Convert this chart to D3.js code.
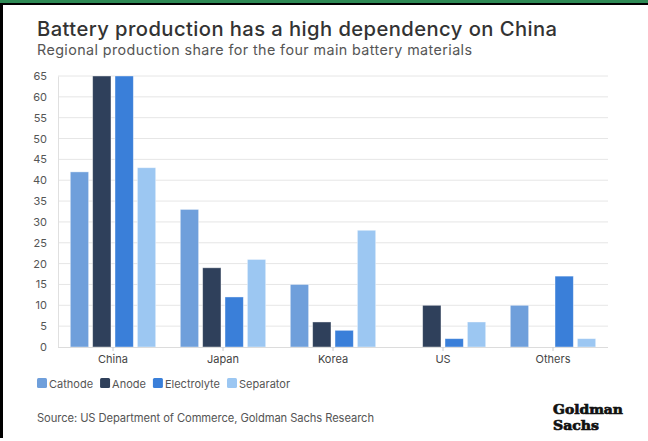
<!DOCTYPE html>
<html><head><meta charset="utf-8">
<script src="https://cdn.jsdelivr.net/npm/d3@7"></script>
<style>
html,body{margin:0;padding:0;background:#fff;}
svg{display:block;}
</style></head>
<body>
<svg id="c" width="648" height="441"></svg>
<script>
const categories = ["China", "Japan", "Korea", "US", "Others"];
const seriesNames = ["Cathode", "Anode", "Electrolyte", "Separator"];
const cathode = [42, 33, 15, 0, 10];
const anode = [65, 19, 6, 10, 0];
const electrolyte = [65, 12, 4, 2, 17];
const separator = [43, 21, 28, 6, 2];
const yTicks = [0,5,10,15,20,25,30,35,40,45,50,55,60,65];
const colors = ["#6f9fdb", "#2f405b", "#3a7fd9", "#9cc7f2"];

const seriesValues = [cathode, anode, electrolyte, separator];
const svg = d3.select("#c");
const font = "Inter, 'Noto Sans', sans-serif";

// frame
svg.append("rect").attr("x",0).attr("y",0).attr("width",648).attr("height",3).attr("fill","#2e8a55");
svg.append("rect").attr("x",0).attr("y",3).attr("width",648).attr("height",2).attr("fill","#000");
svg.append("rect").attr("x",0).attr("y",3).attr("width",3).attr("height",435).attr("fill","#000");

svg.append("text").attr("x",37).attr("y",36).attr("font-family",font).attr("font-size",20.2)
  .attr("font-weight",500).attr("fill","#333").attr("textLength",520).attr("lengthAdjust","spacing")
  .text("Battery production has a high dependency on China");
svg.append("text").attr("x",37).attr("y",55).attr("font-family",font).attr("font-size",14.3)
  .attr("fill","#555").attr("textLength",435).attr("lengthAdjust","spacing")
  .text("Regional production share for the four main battery materials");

const pL = 58, pR = 608, pT = 76, pB = 347;
const x = d3.scaleBand().domain(categories).range([pL, pR]).paddingInner(0).paddingOuter(0);
const x1 = d3.scaleBand().domain(seriesNames).range([0, x.bandwidth()]).paddingInner(0.18).paddingOuter(0.55);
const y = d3.scaleLinear().domain([0, 65]).range([pB, pT]);

// grid
svg.append("g").selectAll("line").data(yTicks.filter(d=>d>0)).join("line")
  .attr("x1",pL).attr("x2",pR).attr("y1",d=>y(d)).attr("y2",d=>y(d))
  .attr("stroke","#e6e6e6").attr("stroke-width",1);

// y axis
const ya = svg.append("g").attr("transform",`translate(${pL},0)`)
  .call(d3.axisLeft(y).tickValues(yTicks).tickSize(0).tickPadding(11));
ya.select(".domain").attr("stroke","#e0e0e0");
ya.selectAll("text").attr("font-family",font).attr("font-size",11).attr("fill","#555");

// bars
const g = svg.append("g");
categories.forEach((c,i)=>{
  seriesNames.forEach((s,j)=>{
    const v = seriesValues[j][i];
    if (v <= 0) return;
    g.append("rect")
      .attr("x", x(c) + x1(s)).attr("width", x1.bandwidth())
      .attr("y", y(v)).attr("height", y(0) - y(v))
      .attr("fill", colors[j]).attr("stroke","rgba(255,255,255,0.5)").attr("stroke-width",0.8);
  });
});

// x axis
const xa = svg.append("g").attr("transform",`translate(0,${pB})`)
  .call(d3.axisBottom(x).tickSize(4).tickPadding(4));
xa.select(".domain").attr("stroke","#dcdcdc").attr("d",`M${pL},0.5H${pR}`);
xa.selectAll(".tick line").attr("stroke","#ccc");
xa.selectAll("text").attr("font-family",font).attr("font-size",11).attr("fill","#444");

// legend
const lg = svg.append("g").attr("transform","translate(37,378)");
let lx = 0;
seriesNames.forEach((s,j)=>{
  const it = lg.append("g").attr("transform",`translate(${lx},0)`);
  it.append("rect").attr("width",10).attr("height",10).attr("rx",1.5).attr("fill",colors[j]);
  const t = it.append("text").attr("x",12).attr("y",9.5).attr("font-family",font).attr("font-size",11)
    .attr("fill","#555").text(s);
  lx += 12 + t.node().getComputedTextLength() + 7;
});

svg.append("text").attr("x",37).attr("y",422).attr("font-family",font).attr("font-size",11.2)
  .attr("fill","#555").attr("textLength",337).attr("lengthAdjust","spacing")
  .text("Source: US Department of Commerce, Goldman Sachs Research");

// logo
const logo = svg.append("g").attr("font-family","'DejaVu Serif Condensed', 'DejaVu Serif', serif")
  .attr("font-weight","bold").attr("fill","#111").attr("stroke","#111").attr("stroke-width",0.6);
logo.append("text").attr("transform","translate(553,414) scale(1,1.1)").attr("font-size",12.5)
  .attr("textLength",70).attr("lengthAdjust","spacingAndGlyphs").text("Goldman");
logo.append("text").attr("transform","translate(553,430) scale(1,1.1)").attr("font-size",12.5)
  .attr("textLength",46).attr("lengthAdjust","spacingAndGlyphs").text("Sachs");
</script>
</body></html>
